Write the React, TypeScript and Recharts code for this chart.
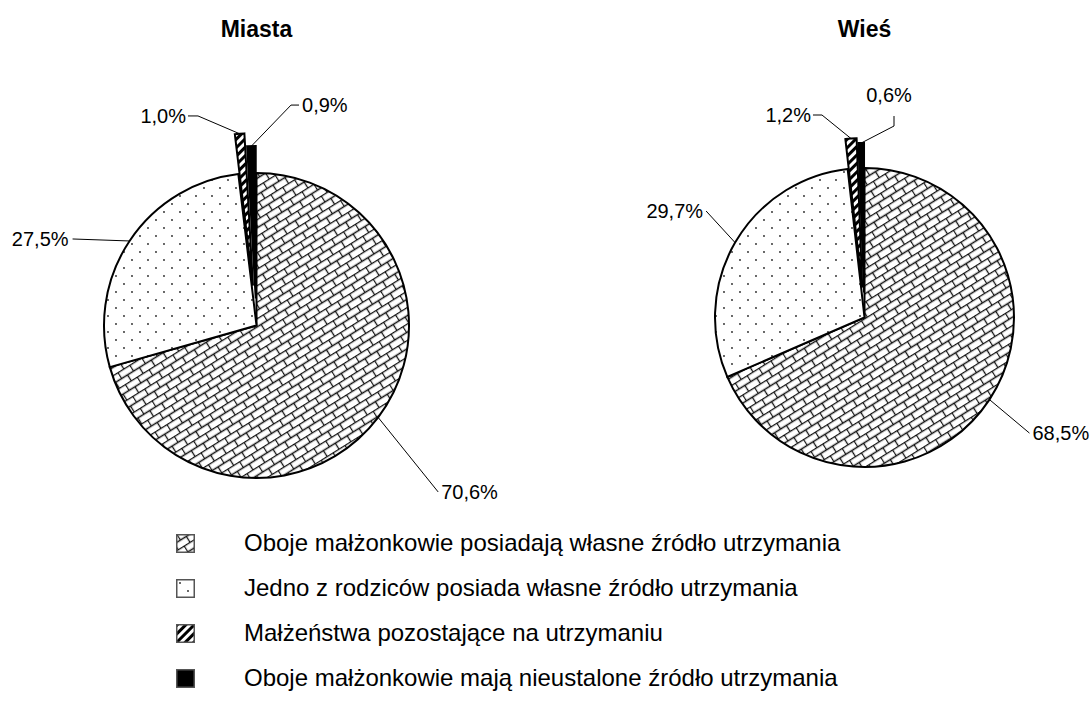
import React from 'react';
import { PieChart, Pie, Cell } from 'recharts';

const categories = [
  'Oboje małżonkowie posiadają własne źródło utrzymania',
  'Jedno z rodziców posiada własne źródło utrzymania',
  'Małżeństwa pozostające na utrzymaniu',
  'Oboje małżonkowie mają nieustalone źródło utrzymania',
];
const titles = ['Miasta', 'Wieś'];
const miastaValues = [70.6, 27.5, 1.0, 0.9];
const wiesValues = [68.5, 29.7, 1.2, 0.6];

const fills = ['url(#weave)', 'url(#dots)', 'url(#stripes)', '#000'];
const FONT = '"Liberation Sans", Arial, sans-serif';

// label leader lines: offsets from the slice edge point (elbow optional)
type LabelCfg = { elbow?: [number, number]; end: [number, number]; anchor: 'start' | 'end' | 'middle'; text: [number, number] };

const charts = [
  {
    title: titles[0],
    values: miastaValues,
    cx: 256.5,
    cy: 325.5,
    r: 152.5,
    explode: [0, 0, 40, 27],
    labels: [
      { end: [60, 74.5], anchor: 'start', text: [3, 0] },
      { end: [-57, -2], anchor: 'end', text: [-4, 0] },
      { elbow: [-41.6, -17.8], end: [-51.6, -17.8], anchor: 'end', text: [-2, 0] },
      { elbow: [39.6, -41], end: [47.6, -41], anchor: 'start', text: [3, 0] },
    ] as LabelCfg[],
  },
  {
    title: titles[1],
    values: wiesValues,
    cx: 864.5,
    cy: 317.5,
    r: 149.5,
    explode: [0, 0, 30, 25],
    labels: [
      { end: [40, 33.5], anchor: 'start', text: [3, 0] },
      { end: [-29, -31.6], anchor: 'end', text: [-3, 0] },
      { elbow: [-29, -23.5], end: [-38, -23.5], anchor: 'end', text: [-2, 0] },
      { elbow: [32.8, -17], end: [32.8, -27], anchor: 'middle', text: [-5, -21] },
    ] as LabelCfg[],
  },
];

const RAD = Math.PI / 180;

function midAngles(values: number[]) {
  const total = values.reduce((a, b) => a + b, 0);
  let acc = 0;
  return values.map((v) => {
    const m = 90 - (360 * (acc + v / 2)) / total;
    acc += v;
    return m;
  });
}

function PatternDefs({ prefix = '' }: { prefix?: string }) {
  return (
    <defs>
      <pattern id={prefix + 'weave'} width="14" height="14" patternUnits="userSpaceOnUse" patternTransform="rotate(-32)">
        <rect width="14" height="14" fill="#fff" />
        <path d="M0 0.5H14M0 7.5H14M0.5 0V7M7.5 7V14" stroke="#111" strokeWidth="1.3" fill="none" />
      </pattern>
      <pattern id={prefix + 'dots'} width="16" height="16" patternUnits="userSpaceOnUse">
        <rect width="16" height="16" fill="#fff" />
        <circle cx="4" cy="4" r="0.9" fill="#222" />
        <circle cx="12" cy="12" r="0.9" fill="#222" />
      </pattern>
      <pattern id={prefix + 'stripes'} width="6" height="6" patternUnits="userSpaceOnUse" patternTransform="rotate(45)">
        <rect width="6" height="6" fill="#fff" />
        <rect width="3" height="6" fill="#000" />
      </pattern>
    </defs>
  );
}

function makeLabel(cfg: LabelCfg[], only: number[]) {
  return (props: any) => {
    const { cx, cy, midAngle, outerRadius, index, value } = props;
    if (!only.includes(index)) return <g />;
    const c = cfg[index];
    const ex = cx + Math.cos(-midAngle * RAD) * outerRadius;
    const ey = cy + Math.sin(-midAngle * RAD) * outerRadius;
    const pts = [[ex, ey]];
    if (c.elbow) pts.push([ex + c.elbow[0], ey + c.elbow[1]]);
    const end = [ex + c.end[0], ey + c.end[1]];
    pts.push(end);
    return (
      <g>
        <polyline points={pts.map((p) => p.join(',')).join(' ')} fill="none" stroke="#000" strokeWidth={1} />
        <text
          x={end[0] + c.text[0]}
          y={end[1] + c.text[1]}
          textAnchor={c.anchor}
          dominantBaseline="central"
          fontFamily={FONT}
          fontSize={20}
          fill="#000"
        >
          {value.toFixed(1).replace('.', ',') + '%'}
        </text>
      </g>
    );
  };
}

export default function App() {
  return (
    <div style={{ position: 'absolute', left: 0, top: 0, width: 1090, height: 705, background: '#fff', fontFamily: FONT }}>
      <PieChart width={1090} height={705} margin={{ top: 0, right: 0, bottom: 0, left: 0 }}>
        <PatternDefs />
        {charts.map((ch) => {
          const data = ch.values.map((v, i) => ({ name: categories[i], value: v }));
          const mids = midAngles(ch.values);
          const exploded = ch.explode.map((d, i) => i).filter((i) => ch.explode[i] > 0);
          const solid = ch.explode.map((d, i) => i).filter((i) => ch.explode[i] === 0);
          return [
            <Pie
              key={ch.title + '-main'}
              data={data}
              dataKey="value"
              cx={ch.cx}
              cy={ch.cy}
              outerRadius={ch.r}
              startAngle={90}
              endAngle={-270}
              labelLine={false}
              label={makeLabel(ch.labels, solid)}
              isAnimationActive={false}
            >
              {data.map((d, i) =>
                solid.includes(i) ? (
                  <Cell key={i} fill={fills[i]} stroke="#000" strokeWidth={2} />
                ) : (
                  <Cell key={i} fill="none" stroke="none" />
                )
              )}
            </Pie>,
            ...exploded.map((k) => (
              <Pie
                key={ch.title + '-ex' + k}
                data={data}
                dataKey="value"
                cx={ch.cx + Math.cos(mids[k] * RAD) * ch.explode[k]}
                cy={ch.cy - Math.sin(mids[k] * RAD) * ch.explode[k]}
                outerRadius={ch.r}
                startAngle={90}
                endAngle={-270}
                labelLine={false}
                label={makeLabel(ch.labels, [k])}
                isAnimationActive={false}
              >
                {data.map((d, i) =>
                  i === k ? (
                    <Cell key={i} fill={fills[i]} stroke="#000" strokeWidth={2} />
                  ) : (
                    <Cell key={i} fill="none" stroke="none" />
                  )
                )}
              </Pie>
            )),
          ];
        })}
      </PieChart>
      {charts.map((ch) => (
        <div
          key={ch.title}
          style={{
            position: 'absolute',
            left: ch.cx - 100,
            width: 200,
            top: 16,
            textAlign: 'center',
            fontWeight: 'bold',
            fontSize: 23,
          }}
        >
          {ch.title}
        </div>
      ))}
      {categories.map((c, i) => (
        <div
          key={c}
          style={{ position: 'absolute', left: 176, top: 529 + i * 45, height: 28, display: 'flex', alignItems: 'center' }}
        >
          <svg width={19} height={19} style={{ display: 'block' }}>
            <PatternDefs prefix={'lg' + i} />
            <rect
              x={0.75}
              y={0.75}
              width={17.5}
              height={17.5}
              fill={i === 3 ? '#000' : 'url(#lg' + i + fills[i].slice(5)}
              stroke="#555"
              strokeWidth={1.5}
            />
          </svg>
          <span style={{ marginLeft: 49, fontSize: 24, whiteSpace: 'nowrap' }}>{c}</span>
        </div>
      ))}
    </div>
  );
}
